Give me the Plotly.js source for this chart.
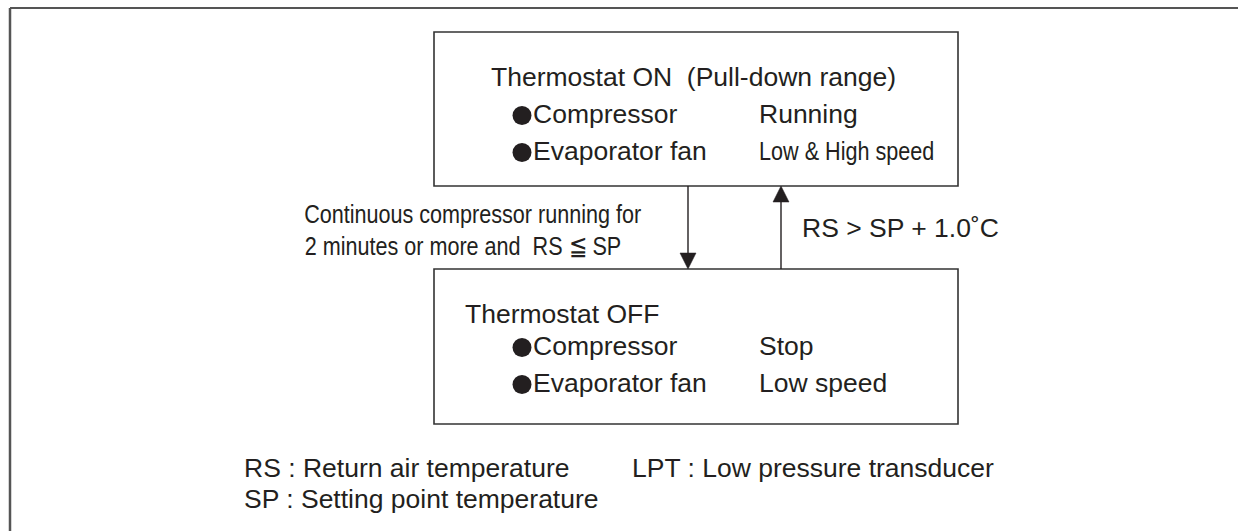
<!DOCTYPE html>
<html>
<head>
<meta charset="utf-8">
<script src="https://cdn.plot.ly/plotly-3.0.1.min.js"></script>
<style>html,body{margin:0;padding:0;background:#fff;overflow:hidden;}#chart{width:1238px;height:531px;}</style>
</head>
<body>
<div id="chart"></div>
<script>
// ---- content ----
const stateTitles = ["Thermostat ON\u00a0 (Pull-down range)", "Thermostat OFF"];
const items = ["Compressor", "Evaporator fan"];
const onStates = ["Running", "Low & High speed"];
const offStates = ["Stop", "Low speed"];
const downCondition = ["Continuous compressor running for", "2 minutes or more and\u00a0 RS \u2266 SP"];
const upCondition = "RS > SP + 1.0\u02DAC";
const legendLines = ["RS : Return air temperature", "LPT : Low pressure transducer", "SP : Setting point temperature"];

// ---- drawing ----
const INK = "#231f20";
const FONT = "Liberation Sans, Arial, Helvetica, sans-serif";
const FS = 26.5;
const NARROW_SCALE = 0.815;

const narrowIdx = [];
const annotations = [];
function txt(text, x, baseline, opts) {
  opts = opts || {};
  const size = opts.size || FS;
  if (opts.narrow) narrowIdx.push(annotations.length);
  annotations.push({
    x: x, y: baseline - 0.3465 * size, xref: "x", yref: "y",
    text: text, showarrow: false, xanchor: "left", yanchor: "middle",
    font: {family: FONT, size: size, color: INK},
    borderpad: 0, borderwidth: 0
  });
}

// bullet dots (● markers in front of each item)
const bulletX = [];
const bulletY = [];
function item(text, baseline) {
  bulletX.push(522);
  bulletY.push(baseline - 7.5);
  txt(text, 533, baseline);
}

// top box
txt(stateTitles[0], 491, 86);
item(items[0], 123);
txt(onStates[0], 759, 123);
item(items[1], 160);
txt(onStates[1], 759, 160, {narrow: true});
// transitions
txt(downCondition[0], 304, 223, {narrow: true});
txt(downCondition[1], 304, 255, {narrow: true});
txt(upCondition, 802, 237);
// bottom box
txt(stateTitles[1], 465, 323);
item(items[0], 355);
txt(offStates[0], 759, 355);
item(items[1], 392);
txt(offStates[1], 759, 392);
// legend
txt(legendLines[0], 244, 477);
txt(legendLines[1], 632, 477);
txt(legendLines[2], 244, 508);

const boxLine = {color: "#333", width: 1.6};
const shapes = [
  // outer frame (top and left visible)
  {type: "line", x0: 10, y0: 8, x1: 1238, y1: 8, line: {color: "#555", width: 2}},
  {type: "line", x0: 10, y0: 8, x1: 10, y1: 531, line: {color: "#555", width: 2.5}},
  // state boxes
  {type: "rect", x0: 434, y0: 32, x1: 958, y1: 186, line: boxLine},
  {type: "rect", x0: 434, y0: 269, x1: 958, y1: 424, line: boxLine},
  // down arrow
  {type: "line", x0: 688, y0: 186, x1: 688, y1: 255, line: {color: INK, width: 1.4}},
  {type: "path", path: "M 680 253 L 696 253 L 688 269 Z", fillcolor: INK, line: {color: INK, width: 0.5}},
  // up arrow
  {type: "line", x0: 781, y0: 200, x1: 781, y1: 269, line: {color: INK, width: 1.4}},
  {type: "path", path: "M 773 202 L 789 202 L 781 186 Z", fillcolor: INK, line: {color: INK, width: 0.5}},
  // keep the right margin clean
  {type: "rect", x0: 1228, y0: 10, x1: 1238, y1: 531, fillcolor: "#fff", line: {width: 0}, layer: "above"}
];

const layout = {
  width: 1238, height: 531,
  margin: {l: 0, r: 0, t: 0, b: 0},
  paper_bgcolor: "#fff", plot_bgcolor: "#fff",
  showlegend: false,
  xaxis: {range: [0, 1238], visible: false, fixedrange: true},
  yaxis: {range: [531, 0], visible: false, fixedrange: true},
  shapes: shapes,
  annotations: annotations
};

const traces = [{
  x: bulletX, y: bulletY, type: "scatter", mode: "markers", hoverinfo: "skip",
  marker: {symbol: "circle", size: 19, color: INK, line: {width: 0}},
  cliponaxis: false
}];

Plotly.newPlot("chart", traces, layout, {displayModeBar: false, staticPlot: true})
  .then(function () {
    // condensed face used in the original for some labels
    document.querySelectorAll("#chart .annotation").forEach(function (g) {
      const idx = parseInt(g.getAttribute("data-index"), 10);
      if (narrowIdx.indexOf(idx) >= 0) {
        const t = g.querySelector("text");
        if (t) {
          t.style.transformBox = "fill-box";
          t.style.transformOrigin = "left center";
          t.style.transform = "scaleX(" + NARROW_SCALE + ")";
        }
      }
    });
  });
</script>
</body>
</html>
